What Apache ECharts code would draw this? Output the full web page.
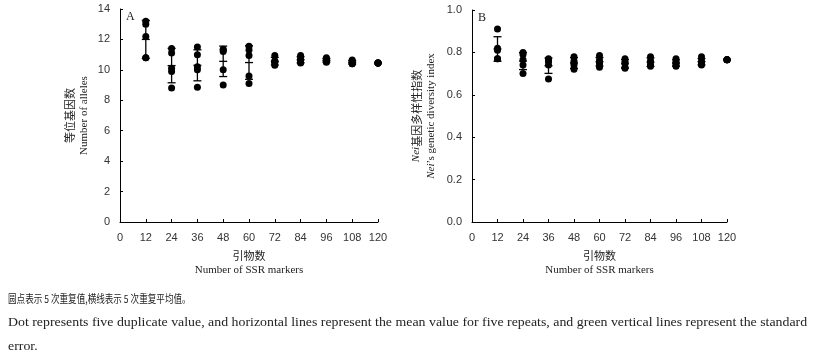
<!DOCTYPE html>
<html><head><meta charset="utf-8">
<script src="https://cdn.jsdelivr.net/npm/echarts@6/dist/echarts.min.js"></script>
<style>html,body{margin:0;padding:0;background:#fff}#c{width:815px;height:361px}</style>
</head><body><div id="c"></div>
<script>
const markers = [12, 24, 36, 48, 60, 72, 84, 96, 108, 120];
const xTicks = [0, 12, 24, 36, 48, 60, 72, 84, 96, 108, 120];
// Panel A: number of alleles, 5 repeats each
const allelesReps = [
  [13.2, 13.0, 12.2, 10.8, 10.8],
  [11.4, 11.1, 10.1, 9.9, 8.8],
  [11.5, 11.0, 10.2, 10.0, 8.85],
  [11.35, 11.3, 11.2, 10.0, 9.0],
  [11.55, 11.3, 10.95, 9.6, 9.1],
  [10.95, 10.6, 10.5, 10.5, 10.3],
  [10.95, 10.7, 10.7, 10.5, 10.45],
  [10.8, 10.7, 10.6, 10.55, 10.5],
  [10.65, 10.55, 10.5, 10.4, 10.4],
  [10.45, 10.45, 10.45, 10.45, 10.45]
];
const allelesMean = [12.0, 10.28, 10.3, 10.56, 10.48, 10.57, 10.66, 10.63, 10.5, 10.45];
const allelesErr  = [1.25, 1.13, 1.02, 1.0, 1.1, 0.25, 0.2, 0.12, 0.12, 0];
// Panel B: Nei's genetic diversity index
const neiReps = [
  [0.91, 0.82, 0.81, 0.77, 0.77],
  [0.80, 0.79, 0.765, 0.74, 0.70],
  [0.77, 0.76, 0.76, 0.74, 0.675],
  [0.78, 0.76, 0.75, 0.74, 0.72],
  [0.785, 0.765, 0.755, 0.745, 0.73],
  [0.77, 0.755, 0.75, 0.73, 0.725],
  [0.78, 0.76, 0.755, 0.74, 0.735],
  [0.77, 0.755, 0.75, 0.74, 0.735],
  [0.78, 0.76, 0.755, 0.745, 0.74],
  [0.765, 0.765, 0.765, 0.765, 0.765]
];
const neiMean = [0.816, 0.759, 0.737, 0.75, 0.756, 0.746, 0.754, 0.75, 0.756, 0.765];
const neiErr  = [0.058, 0.04, 0.036, 0.025, 0.02, 0.02, 0.02, 0.015, 0.015, 0];

const captionZh = '圆点表示 5 次重复值,横线表示 5 次重复平均值。';
const captionEn1 = 'Dot represents five duplicate value, and horizontal lines represent the mean value for five repeats, and green vertical lines represent the standard';
const captionEn2 = 'error.';

function dots(reps) {
  const out = [];
  markers.forEach((m, i) => reps[i].forEach(v => out.push([m, v])));
  return out;
}
function errData(mean, err) {
  return markers.map((m, i) => [m, mean[i], mean[i] - err[i], mean[i] + err[i]]);
}
function errRender(params, api) {
  const x = api.value(0);
  const pm = api.coord([x, api.value(1)]);
  const pl = api.coord([x, api.value(2)]);
  const ph = api.coord([x, api.value(3)]);
  const hw = 4;
  const st = {stroke: '#000', lineWidth: 1.3};
  const ch = [
    {type: 'line', shape: {x1: pm[0] - hw, y1: pm[1], x2: pm[0] + hw, y2: pm[1]}, style: st}
  ];
  if (Math.abs(ph[1] - pl[1]) > 0.5) {
    ch.push({type: 'line', shape: {x1: ph[0], y1: ph[1], x2: pl[0], y2: pl[1]}, style: st});
    ch.push({type: 'line', shape: {x1: ph[0] - hw, y1: ph[1], x2: ph[0] + hw, y2: ph[1]}, style: st});
    ch.push({type: 'line', shape: {x1: pl[0] - hw, y1: pl[1], x2: pl[0] + hw, y2: pl[1]}, style: st});
  }
  return {type: 'group', children: ch};
}

const axisLbl = {color: '#333', fontFamily: 'Liberation Sans, Arial', fontSize: 11};
const axLine = {show: true, lineStyle: {color: '#000', width: 1}};
const axTick = {show: true, inside: true, length: 3, lineStyle: {color: '#000'}};
const serif = 'Liberation Serif, Times New Roman, Noto Sans CJK SC';

function xAx(idx) {
  return {
    type: 'value', gridIndex: idx, min: 0, max: 120, interval: 12,
    axisLine: axLine, axisTick: axTick, splitLine: {show: false},
    axisLabel: Object.assign({margin: 10}, axisLbl),
    name: '{zh|引物数}\n{en|Number of SSR markers}', nameLocation: 'middle', nameGap: 26,
    nameTextStyle: {rich: {
      zh: {fontFamily: 'Noto Sans CJK SC', fontSize: 11, color: '#222', lineHeight: 15},
      en: {fontFamily: serif, fontSize: 11, color: '#222', lineHeight: 15}
    }}
  };
}

const chart = echarts.init(document.getElementById('c'), null, {renderer: 'canvas'});
chart.setOption({
  animation: false,
  backgroundColor: '#fff',
  grid: [
    {left: 120, top: 9, width: 258, height: 213},
    {left: 472, top: 10, width: 255, height: 212}
  ],
  xAxis: [xAx(0), xAx(1)],
  yAxis: [
    {
      type: 'value', gridIndex: 0, min: 0, max: 14, interval: 2,
      axisLine: axLine, axisTick: axTick, splitLine: {show: false},
      axisLabel: Object.assign({margin: 10}, axisLbl),
      name: '{zh|等位基因数}\n{en|Number of alleles}', nameLocation: 'middle', nameRotate: 90, nameGap: 28,
      nameTextStyle: {rich: {
        zh: {fontFamily: 'Noto Sans CJK SC', fontSize: 11, color: '#222', lineHeight: 15},
        en: {fontFamily: serif, fontSize: 11, color: '#222', lineHeight: 15}
      }}
    },
    {
      type: 'value', gridIndex: 1, min: 0, max: 1, interval: 0.2,
      axisLine: axLine, axisTick: axTick, splitLine: {show: false},
      axisLabel: Object.assign({margin: 10, formatter: v => v.toFixed(1)}, axisLbl),
      name: '{it|Nei}{zh|基因多样性指数}\n{it|Nei}{en|\u2019s genetic diversity index}', nameLocation: 'middle', nameRotate: 90, nameGap: 33,
      nameTextStyle: {rich: {
        it: {fontFamily: serif, fontStyle: 'italic', fontSize: 11, color: '#222', lineHeight: 15},
        zh: {fontFamily: 'Noto Sans CJK SC', fontSize: 11, color: '#222', lineHeight: 15},
        en: {fontFamily: serif, fontSize: 11, color: '#222', lineHeight: 15}
      }}
    }
  ],
  series: [
    {type: 'custom', xAxisIndex: 0, yAxisIndex: 0, renderItem: errRender, data: errData(allelesMean, allelesErr), z: 3},
    {type: 'scatter', xAxisIndex: 0, yAxisIndex: 0, symbolSize: 7, itemStyle: {color: '#000', opacity: 1}, data: dots(allelesReps), z: 4},
    {type: 'custom', xAxisIndex: 1, yAxisIndex: 1, renderItem: errRender, data: errData(neiMean, neiErr), z: 3},
    {type: 'scatter', xAxisIndex: 1, yAxisIndex: 1, symbolSize: 7, itemStyle: {color: '#000', opacity: 1}, data: dots(neiReps), z: 4}
  ],
  graphic: [
    {type: 'text', left: 126, top: 11, style: {text: 'A', font: '12px ' + serif, fill: '#222'}},
    {type: 'text', left: 478, top: 12, style: {text: 'B', font: '12px ' + serif, fill: '#222'}},
    {type: 'text', x: 8, y: 293, scaleX: 0.78, style: {text: captionZh, font: '11px Noto Sans CJK SC', fill: '#222'}},
    {type: 'text', x: 8, y: 317, scaleX: 1.205, style: {text: captionEn1, font: '11.5px ' + serif, fill: '#222'}},
    {type: 'text', x: 8, y: 341, scaleX: 1.205, style: {text: captionEn2, font: '11.5px ' + serif, fill: '#222'}}
  ]
});
</script></body></html>
